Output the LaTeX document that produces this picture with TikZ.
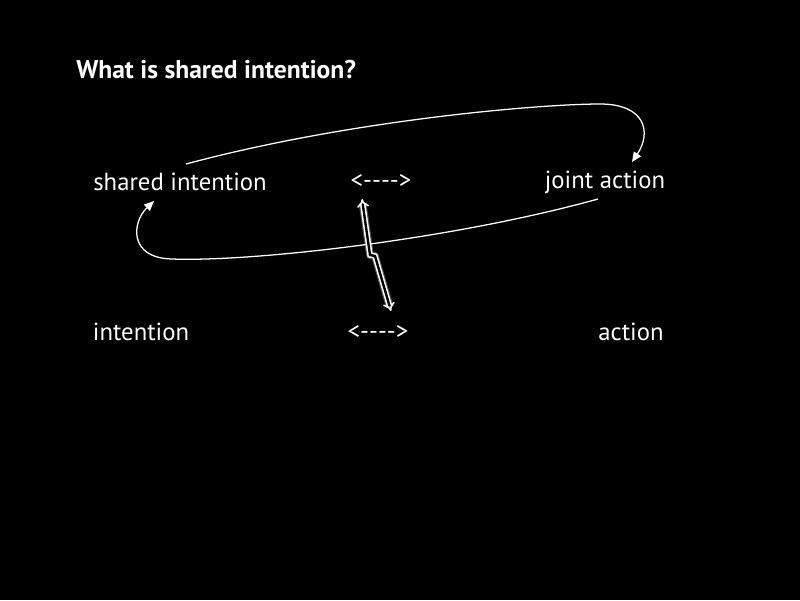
\documentclass[tikz,border=0pt]{standalone}
\usepackage{fontspec}
\setmainfont{PT Sans}
\usetikzlibrary{arrows.meta}
\begin{document}
\begin{tikzpicture}[x=0.025cm, y=-0.025cm,
    word/.style = {text=white, font=\fontsize{17.6}{21}\selectfont, inner sep=0pt},
    loopy/.style = {draw=white, line width=0.9pt, -{Triangle[width=6pt,length=7pt]}},
    jag/.style = {draw=white, double=black, double distance=1.7pt, line width=1.1pt, {Implies[scale=1.6]}-{Implies[scale=1.6]}},
    glow/.style = {draw=white, line width=5.5pt, opacity=0.3, line join=round, shorten <=3pt, shorten >=3pt}]
    \fill[black] (0,0) rectangle (800,600);
    \node[text=white, font=\fontsize{18.2}{22}\selectfont\bfseries, anchor=west, inner sep=0pt] (title) at (76,70) {What is shared intention?};
    \node[word] (si) at (180,182) {shared intention};
    \node[word] (arr1) at (381,182) {<{-}{-}{-}{-}>};
    \node[word] (ja) at (605,182) {joint action};
    \node[word] (in) at (141,332) {intention};
    \node[word] (arr2) at (378,332) {<{-}{-}{-}{-}>};
    \node[word] (ac) at (631,332) {action};
    % loops between the two rows
    \coordinate (top1) at (186,164);
    \coordinate (top2) at (632,162);
    \coordinate (bot1) at (598,199);
    \coordinate (bot2) at (154,201);
    \draw[loopy] (top1) .. controls (350,120) and (540,104) .. (600,104)
        .. controls (645,104) and (652,132) .. (top2);
    \draw[loopy] (bot1) .. controls (450,240) and (250,262) .. (172,259)
        .. controls (128,258) and (132,222) .. (bot2);
    % the link from shared to individual
    \coordinate (z1) at (362,199);
    \coordinate (z2) at (391,311);
    \draw[glow] (z1) -- (370,255) -- (375,256) -- (z2);
    \draw[jag] (z1) -- (370,255) -- (375,256) -- (z2);
\end{tikzpicture}
\end{document}
